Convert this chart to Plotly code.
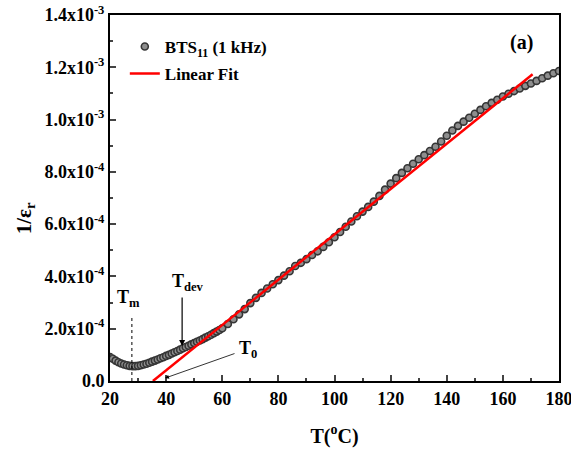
import plotly.graph_objects as go

# Data (1/epsilon_r in units of 1e-4)
T_low = [20, 21, 22, 23, 24, 25, 26, 27, 28, 29, 30, 31, 32, 33, 34, 35, 36, 37, 38, 39,
         40, 41, 42, 43, 44, 45, 46, 47, 48, 49, 50, 51, 52, 53, 54, 55, 56, 57, 58, 59]
V_low = [0.92, 0.85, 0.78, 0.72, 0.67, 0.63, 0.60, 0.58, 0.57, 0.57, 0.58, 0.60, 0.63, 0.66,
         0.70, 0.74, 0.78, 0.82, 0.87, 0.91, 0.96, 1.00, 1.05, 1.10, 1.15, 1.20, 1.25, 1.30,
         1.35, 1.40, 1.45, 1.50, 1.55, 1.60, 1.66, 1.71, 1.77, 1.83, 1.89, 1.95]
T_high = [60, 62, 64, 66, 68, 70, 72, 74, 76, 78, 80, 82, 84, 86, 88, 90, 92, 94, 96, 98,
          100, 102, 104, 106, 108, 110, 112, 114, 116, 118, 120, 122, 124, 126, 128, 130,
          132, 134, 136, 138, 140, 142, 144, 146, 148, 150, 152, 154, 156, 158, 160, 162,
          164, 166, 168, 170, 172, 174, 176, 178, 180]
V_high = [2.02, 2.18, 2.36, 2.55, 2.75, 2.98, 3.18, 3.37, 3.54, 3.70, 3.86, 4.03, 4.20, 4.40,
          4.52, 4.66, 4.82, 4.96, 5.13, 5.31, 5.50, 5.70, 5.90, 6.10, 6.30, 6.48, 6.66, 6.86,
          7.08, 7.32, 7.55, 7.76, 7.96, 8.14, 8.31, 8.48, 8.64, 8.80, 8.96, 9.16, 9.38, 9.58,
          9.76, 9.92, 10.07, 10.22, 10.37, 10.51, 10.64, 10.76, 10.88, 10.99, 11.09, 11.19,
          11.29, 11.38, 11.48, 11.58, 11.68, 11.77, 11.86]
fit_T = [35.3, 170.6]
fit_V = [0.0, 11.73]

y_tickvals = [0, 2e-4, 4e-4, 6e-4, 8e-4, 10e-4, 12e-4, 14e-4]
y_ticktext = ["0.0", "2.0x10<sup>-4</sup>", "4.0x10<sup>-4</sup>", "6.0x10<sup>-4</sup>",
              "8.0x10<sup>-4</sup>", "1.0x10<sup>-3</sup>", "1.2x10<sup>-3</sup>", "1.4x10<sup>-3</sup>"]
x_tickvals = [20, 40, 60, 80, 100, 120, 140, 160, 180]

T_all = T_low + T_high
V_all = [v * 1e-4 for v in V_low + V_high]

FONT = "Liberation Serif"

fig = go.Figure()
fig.add_trace(go.Scatter(
    x=T_all, y=V_all, mode="markers", name="BTS<sub>11</sub> (1 kHz)",
    marker=dict(size=7, color="#8e8e8e", line=dict(color="#353535", width=1.6)),
    legendgroup="a"))
fig.add_trace(go.Scatter(
    x=fit_T, y=[v * 1e-4 for v in fit_V], mode="lines", name="Linear Fit",
    line=dict(color="#ff0000", width=2.5), legendgroup="b"))

fig.update_layout(
    width=571, height=452,
    margin=dict(l=110, r=12, t=15, b=71),
    paper_bgcolor="white", plot_bgcolor="white",
    font=dict(family=FONT, size=17, color="black", weight="bold"),
    showlegend=True,
    legend=dict(x=0.033, y=0.962, xanchor="left", yanchor="top",
                bgcolor="rgba(0,0,0,0)", font=dict(family=FONT, size=17, weight="bold"),
                tracegroupgap=2, itemwidth=30),
)
fig.update_xaxes(
    range=[20, 180], tickvals=x_tickvals, ticks="inside", ticklen=6, tickwidth=2,
    showline=True, linewidth=2, linecolor="black", mirror=True, showgrid=False, zeroline=False,
    tickfont=dict(family=FONT, size=18, weight="bold"), automargin=False,
    ticklabeloverflow="allow",
    minor=dict(ticks="inside", ticklen=3, tickwidth=2, dtick=10, tick0=20, showgrid=False),
    title=dict(text="T(<sup>o</sup>C)", font=dict(family=FONT, size=20, weight="bold"), standoff=21),
)
fig.update_yaxes(
    range=[0, 1.4e-3], tickvals=y_tickvals, ticktext=y_ticktext, ticks="inside", ticklen=6,
    tickwidth=2, showline=True, linewidth=2, linecolor="black", mirror=True, showgrid=False,
    zeroline=False, tickfont=dict(family=FONT, size=18, weight="bold"), automargin=False,
    ticklabeloverflow="allow",
    minor=dict(ticks="inside", ticklen=3, tickwidth=2, dtick=1e-4, tick0=0, showgrid=False),
)

# y-axis title (placed as in the reference, slightly below centre)
fig.add_annotation(xref="paper", yref="paper", x=-0.189, y=0.445, text="1/ε<sub>r</sub>",
                   textangle=-90, showarrow=False, xanchor="center", yanchor="middle",
                   font=dict(family=FONT, size=21, weight="bold"))

# Tm dotted marker line
fig.add_shape(type="line", x0=27.8, x1=27.8, y0=0, y1=2.5e-4,
              line=dict(color="black", width=1, dash="dot"))
# Annotations
fig.add_annotation(x=26.5, y=3.15e-4, text="T<sub>m</sub>", showarrow=False,
                   font=dict(family=FONT, size=18, weight="bold"))
fig.add_annotation(x=47.8, y=3.75e-4, text="T<sub>dev</sub>", showarrow=False,
                   font=dict(family=FONT, size=18, weight="bold"))
fig.add_annotation(x=45.7, y=1.34e-4, ax=45.7, ay=3.25e-4, axref="x", ayref="y",
                   text="", showarrow=True, arrowhead=2, arrowsize=1, arrowwidth=1.2,
                   arrowcolor="black", standoff=0)
fig.add_annotation(x=69.3, y=1.2e-4, text="T<sub>0</sub>", showarrow=False,
                   font=dict(family=FONT, size=18, weight="bold"))
fig.add_annotation(x=39.6, y=0.11e-4, ax=64.9, ay=1.07e-4, axref="x", ayref="y",
                   text="", showarrow=True, arrowhead=2, arrowsize=1, arrowwidth=0.8,
                   arrowcolor="black", standoff=0)
fig.add_annotation(x=166.8, y=12.93e-4, text="(a)", showarrow=False,
                   font=dict(family=FONT, size=20, weight="bold"))

fig.write_html("out.html", config={"displayModeBar": False},
               post_script="document.body.style.margin='0';")
